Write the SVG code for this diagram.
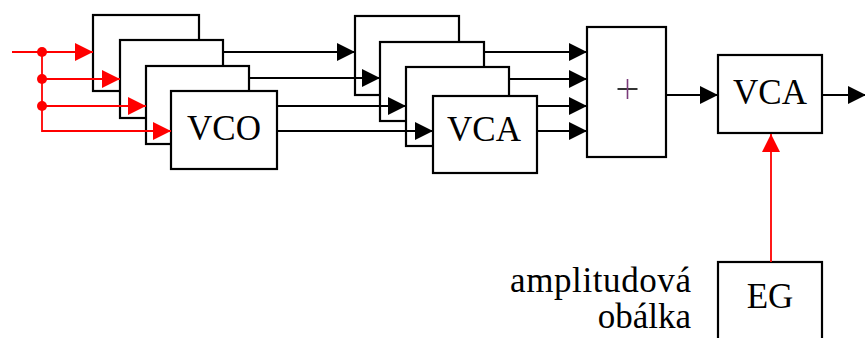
<svg xmlns="http://www.w3.org/2000/svg" width="865" height="338" viewBox="0 0 865 338">
<style>
.box{fill:#fff;stroke:#000;stroke-width:2.2}
.k{fill:none;stroke:#000;stroke-width:1.8}
.r{fill:none;stroke:#f00;stroke-width:1.8}
</style>
<defs>
<marker id="ak" viewBox="0 0 18 18" refX="18" refY="9" markerWidth="18" markerHeight="18" markerUnits="userSpaceOnUse" orient="auto"><path d="M0,0 L18,9 L0,18 z" fill="#000"/></marker>
<marker id="ar" viewBox="0 0 18 18" refX="18" refY="9" markerWidth="18" markerHeight="18" markerUnits="userSpaceOnUse" orient="auto"><path d="M0,0 L18,9 L0,18 z" fill="#f00"/></marker>
</defs>
<g font-family="Liberation Serif, DejaVu Serif, serif" font-size="35" fill="#000">
<g id="vco1"><rect class="box" x="93" y="15" width="106" height="76"/></g>
<g id="vco2"><rect class="box" x="120" y="40" width="103" height="78"/></g>
<g id="vco3"><rect class="box" x="146" y="66" width="103" height="78"/></g>
<g id="vco4"><rect class="box" x="171" y="91" width="106" height="78"/><text x="224" y="140" text-anchor="middle">VCO</text></g>
<g id="vca1"><rect class="box" x="355" y="16" width="104" height="79"/></g>
<g id="vca2"><rect class="box" x="380" y="42" width="104" height="79"/></g>
<g id="vca3"><rect class="box" x="406" y="67" width="103" height="79"/></g>
<g id="vca4"><rect class="box" x="433" y="96" width="104" height="77"/><text x="484" y="141" text-anchor="middle">VCA</text></g>
<g id="sum"><rect class="box" x="587" y="27" width="79" height="130"/><path d="M617.5,89 H637.5" stroke="#000" stroke-width="1.6"/><path d="M627.5,79 V99" stroke="#7a3a7a" stroke-width="1.6"/></g>
<g id="vca-out"><rect class="box" x="718" y="55" width="104" height="78"/><text x="770" y="104" text-anchor="middle">VCA</text></g>
<g id="eg"><rect class="box" x="718" y="262" width="104" height="90"/><text x="770" y="308" text-anchor="middle">EG</text></g>
<g id="label" text-anchor="end"><text x="691" y="292" textLength="181" lengthAdjust="spacing">amplitudová</text><text x="691" y="328">obálka</text></g>
</g>
<g id="connectors">
<path class="r" d="M12,52 H93" marker-end="url(#ar)"/>
<path class="r" d="M42,52 V131 H171" marker-end="url(#ar)"/>
<path class="r" d="M42,79 H120" marker-end="url(#ar)"/>
<path class="r" d="M42,106 H146" marker-end="url(#ar)"/>
<circle cx="42" cy="52" r="5" fill="#f00"/>
<circle cx="42" cy="79" r="5" fill="#f00"/>
<circle cx="42" cy="106" r="5" fill="#f00"/>
<path class="k" d="M223,52 H355" marker-end="url(#ak)"/>
<path class="k" d="M249,78 H380" marker-end="url(#ak)"/>
<path class="k" d="M277,106 H406" marker-end="url(#ak)"/>
<path class="k" d="M277,131 H433" marker-end="url(#ak)"/>
<path class="k" d="M484,52 H587" marker-end="url(#ak)"/>
<path class="k" d="M509,79 H587" marker-end="url(#ak)"/>
<path class="k" d="M537,106 H587" marker-end="url(#ak)"/>
<path class="k" d="M537,131 H587" marker-end="url(#ak)"/>
<path class="k" d="M666,95 H718" marker-end="url(#ak)"/>
<path class="k" d="M822,95 H866" marker-end="url(#ak)"/>
<path class="r" d="M771,262 V134" marker-end="url(#ar)"/>
</g>
</svg>
